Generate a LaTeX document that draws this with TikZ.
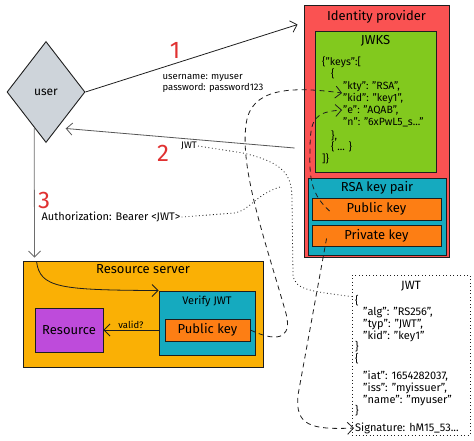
\documentclass[tikz,border=0pt]{standalone}
\usepackage{fontspec}
\setmainfont{Fira Sans}
\usetikzlibrary{positioning,calc,shapes.geometric,arrows.meta}

\definecolor{ink}{HTML}{1E1E1E}
\definecolor{idpred}{HTML}{FA5252}
\definecolor{jwksgreen}{HTML}{82C91E}
\definecolor{keyblue}{HTML}{15AABF}
\definecolor{keyorange}{HTML}{FD7E14}
\definecolor{rsyellow}{HTML}{FAB005}
\definecolor{respurple}{HTML}{BE4BDB}
\definecolor{usergray}{HTML}{CED4DA}
\definecolor{numred}{HTML}{E03131}

\begin{document}
\begin{tikzpicture}[x=1pt,y=-1pt]
\tikzset{box/.style={draw=ink,line width=0.9pt,inner sep=0pt},
         title/.style={font=\fontsize{13}{15}\selectfont,inner sep=1pt},
         small/.style={font=\fontsize{9.5}{11}\selectfont,inner sep=1pt},
         json/.style={anchor=west,font=\fontsize{10.5}{12}\selectfont,inner sep=1pt},
         conn/.style={draw=ink,line width=0.8pt,-{Straight Barb[length=6pt,width=12pt]}},
         keyline/.style={conn,dash pattern=on 5pt off 4pt},
         tokenline/.style={draw=ink,line width=0.8pt,dash pattern=on 0.9pt off 2.6pt},
         num/.style={text=numred,font=\fontsize{24}{24}\selectfont}}
   \useasboundingbox (0,0) rectangle (474,441);

   % user
   \node[box,diamond,fill=usergray,minimum width=78pt,minimum height=101pt,font=\fontsize{12}{14}\selectfont] (user) at (46,92) {user};

   % identity provider
   \node[box,fill=idpred,minimum width=145pt,minimum height=252pt] (idp) at (376.5,131) {};
   \node[title,below=5pt of idp.north] (idptitle) {Identity provider};
   \node[box,fill=jwksgreen,minimum width=121pt,minimum height=141pt] (jwks) at (375.5,101.5) {};
   \node[title,below=4pt of jwks.north] (jwkstitle) {JWKS};
   \node[json] (keys) at (321,62) {\{"keys":[};
   \node[json] (open) at (330,74) {\{};
   \node[json] (kty) at (342,87) {"kty": "RSA",};
   \node[json] (kid) at (342,99) {"kid": "key1",};
   \node[json] (e) at (342,110) {"e": "AQAB",};
   \node[json] (n) at (342,122) {"n": "6xPwL5\_s..."};
   \node[json] (close) at (330,136) {\},};
   \node[json] (more) at (330,147) {\{ ... \}};
   \node[json] (end) at (321,159) {]\}};

   \node[box,fill=keyblue,minimum width=138pt,minimum height=77pt] (rsa) at (377,216.5) {};
   \node[title,below=3pt of rsa.north] (rsatitle) {RSA key pair};
   \node[box,fill=keyorange,minimum width=129pt,minimum height=22pt,title] (pubkey) at (376.5,209) {Public key};
   \node[box,fill=keyorange,minimum width=129pt,minimum height=21pt,title] (privkey) at (376.5,235.5) {Private key};

   % resource server
   \node[box,fill=rsyellow,minimum width=240pt,minimum height=106pt] (rs) at (143,314) {};
   \node[title,below=3pt of rs.north] (rstitle) {Resource server};
   \node[box,fill=keyblue,minimum width=96pt,minimum height=64pt] (verify) at (207,323) {};
   \node[below=4pt of verify.north,font=\fontsize{11}{13}\selectfont,inner sep=1pt] (verifytitle) {Verify JWT};
   \node[box,fill=keyorange,minimum width=85pt,minimum height=22pt,title] (rspub) at (207.5,330) {Public key};
   \node[box,fill=respurple,minimum width=68pt,minimum height=44pt,title] (resource) at (69,330) {Resource};

   % token
   \node[draw=ink,line width=0.8pt,dash pattern=on 0.9pt off 2.6pt,minimum width=118pt,minimum height=160pt] (jwt) at (411,355) {};
   \node[below=5pt of jwt.north,font=\fontsize{12}{14}\selectfont,inner sep=1pt] (jwttitle) {JWT};
   \node[anchor=north west,align=left,font=\fontsize{11}{11.6}\selectfont,inner sep=0pt] (jwtbody) at (355,295) {\{\\
      \hspace*{8pt}"alg": "RS256",\\
      \hspace*{8pt}"typ": "JWT",\\
      \hspace*{8pt}"kid": "key1"\\
      \}\\
      \{\\[6pt]
      \hspace*{8pt}"iat": 1654282037,\\
      \hspace*{8pt}"iss": "myissuer",\\
      \hspace*{8pt}"name": "myuser"\\
      \}};
   \node[json,font=\fontsize{11}{12}\selectfont] (sig) at (354,428) {Signature: hM15\_53...};

   % 1
   \draw[conn] (user.east) -- ($(idp.north west)+(-6,20)$);
   \node[num] (one) at (175,50) {1};
   \node[small,align=left] (cred) at (213,83) {username: myuser\\password: password123};

   % 2
   \draw[conn,draw=ink!75] ($(idp.west)+(-9,17)$) -- ($(user.south east)+(0,11)$);
   \node[num] (two) at (163,153) {2};
   \node[small] (jwtlbl) at (189,146) {JWT};

   % 3
   \coordinate (down) at ($(rs.north west)+(12,-3)$);
   \draw[conn,draw=ink!65] ($(user.south)!0.3!(user.west)$) -- (down);
   \node[num] (three) at (44,200) {3};
   \node[font=\fontsize{11}{12}\selectfont,inner sep=1pt] (authlbl) at (111,217) {Authorization: Bearer <JWT>};
   \draw[conn] ($(rs.north west)+(14,1)$) .. controls (40,288) and (60,290) .. (verify.north west);
   \draw[conn] (verify.west |- resource.east) -- (resource.east) node[midway,above,small] (valid) {valid?};

   % keys and token links
   \draw[keyline] (rspub.east) .. controls (282,345) and (293,335) .. (285,310)
      .. controls (265,240) and (240,170) .. (246,125) .. controls (250,88) and (290,86) .. ($(kty.west)!0.5!(kid.west)$);
   \draw[keyline] ($(pubkey.west)+(18,2)$) .. controls (312,195) and (309,180) .. (310,150)
      .. controls (310,118) and (315,112) .. (e.west);
   \draw[keyline] ($(privkey.west)+(15,3)$) -- (298,395) .. controls (295,425) and (310,430) .. (sig.west);
   \draw[tokenline] (jwtlbl.east) -- (243,153) .. controls (285,163) and (292,175) .. (292,200) -- (293,275)
      .. controls (295,290) and (310,291) .. ($(jwt.north west)+(0,22)$);
   \coordinate (authend) at (280,187);
   \draw[tokenline] (authlbl.east) -- (235,213) .. controls (250,210) and (255,195) .. (authend);
\end{tikzpicture}
\end{document}
